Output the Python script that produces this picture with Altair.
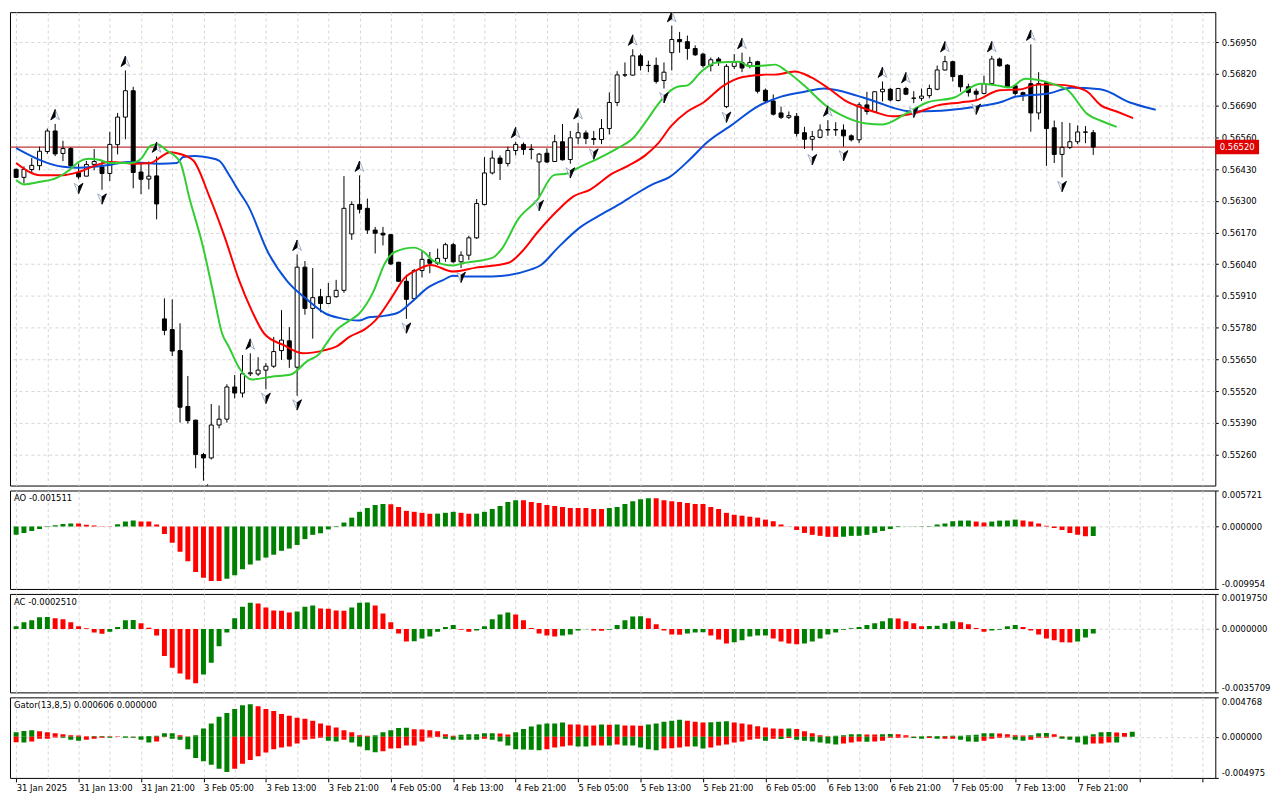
import json
import altair as alt
import pandas as pd

# ---------------- data (H1 candles, 31 Jan 2025 05:00 -> 7 Feb 2025 23:00) ----------------
opens = [0.56429,0.56396,0.56428,0.56444,0.56502,0.56586,0.56494,0.56514,0.56416,0.56401,
0.56449,0.56439,0.56412,0.56530,0.56643,0.56751,0.56418,0.56389,0.56402,0.55816,
0.55772,0.55686,0.55457,0.55401,0.55260,0.55246,0.55381,0.55405,0.55537,0.55512,
0.55591,0.55590,0.55606,0.55622,0.55686,0.55726,0.55618,0.56028,0.55859,0.55907,
0.55879,0.55907,0.55933,0.56164,0.56285,0.56269,0.56180,0.56167,0.56161,0.56048,
0.55970,0.55899,0.56014,0.56060,0.56044,0.56064,0.56120,0.56050,0.56077,0.56148,
0.56285,0.56414,0.56475,0.56453,0.56506,0.56531,0.56512,0.56459,0.56495,0.56461,
0.56542,0.56469,0.56558,0.56578,0.56555,0.56551,0.56596,0.56703,0.56816,0.56815,
0.56894,0.56854,0.56855,0.56793,0.56907,0.56961,0.56952,0.56924,0.56901,0.56854,
0.56881,0.56686,0.56851,0.56867,0.56853,0.56870,0.56753,0.56709,0.56660,0.56642,
0.56646,0.56579,0.56552,0.56560,0.56590,0.56592,0.56590,0.56566,0.56550,0.56693,
0.56666,0.56747,0.56757,0.56711,0.56760,0.56721,0.56720,0.56731,0.56757,0.56836,
0.56870,0.56813,0.56767,0.56749,0.56740,0.56780,0.56881,0.56856,0.56771,0.56743,
0.56780,0.56660,0.56784,0.56599,0.56490,0.56519,0.56542,0.56582,0.56579]
highs = [0.56432,0.56441,0.56475,0.56522,0.56596,0.56615,0.56546,0.56519,0.56452,0.56463,
0.56512,0.56465,0.56583,0.56660,0.56834,0.56767,0.56452,0.56461,0.56482,0.55900,
0.55896,0.55798,0.55582,0.55403,0.55267,0.55467,0.55461,0.55548,0.55586,0.55668,
0.55675,0.55659,0.55635,0.55742,0.55852,0.55782,0.56080,0.56053,0.56024,0.55939,
0.55963,0.55976,0.56401,0.56298,0.56404,0.56309,0.56193,0.56193,0.56164,0.56050,
0.55997,0.56021,0.56097,0.56090,0.56104,0.56128,0.56128,0.56093,0.56157,0.56307,
0.56479,0.56506,0.56486,0.56522,0.56542,0.56539,0.56532,0.56496,0.56515,0.56570,
0.56615,0.56586,0.56619,0.56588,0.56586,0.56635,0.56744,0.56831,0.56867,0.56921,
0.56903,0.56874,0.56887,0.56867,0.57017,0.56992,0.56977,0.56937,0.56907,0.56887,
0.56889,0.56860,0.56901,0.56907,0.56890,0.56874,0.56760,0.56736,0.56686,0.56666,
0.56660,0.56603,0.56586,0.56613,0.56630,0.56622,0.56613,0.56572,0.56703,0.56747,
0.56749,0.56789,0.56763,0.56763,0.56767,0.56749,0.56760,0.56776,0.56854,0.56894,
0.56874,0.56817,0.56780,0.56760,0.56813,0.56894,0.56887,0.56860,0.56773,0.56747,
0.56941,0.56827,0.56789,0.56629,0.56623,0.56619,0.56609,0.56606,0.56590]
lows = [0.56393,0.56371,0.56412,0.56425,0.56492,0.56483,0.56463,0.56439,0.56388,0.56400,
0.56425,0.56345,0.56381,0.56490,0.56552,0.56351,0.56327,0.56347,0.56224,0.55749,
0.55664,0.55391,0.55387,0.55204,0.55153,0.55240,0.55367,0.55391,0.55490,0.55494,
0.55582,0.55582,0.55528,0.55615,0.55648,0.55615,0.55501,0.55833,0.55735,0.55843,
0.55876,0.55903,0.55923,0.56140,0.56248,0.56164,0.56084,0.56117,0.56037,0.55967,
0.55816,0.55896,0.55986,0.56003,0.56037,0.56050,0.56044,0.56024,0.56057,0.56144,
0.56281,0.56408,0.56385,0.56441,0.56486,0.56488,0.56470,0.56318,0.56455,0.56459,
0.56465,0.56452,0.56532,0.56532,0.56529,0.56532,0.56572,0.56689,0.56807,0.56813,
0.56834,0.56827,0.56780,0.56760,0.56834,0.56907,0.56878,0.56894,0.56846,0.56830,
0.56853,0.56680,0.56840,0.56827,0.56843,0.56740,0.56703,0.56649,0.56635,0.56635,
0.56563,0.56512,0.56506,0.56556,0.56566,0.56566,0.56522,0.56543,0.56536,0.56653,
0.56660,0.56707,0.56707,0.56707,0.56733,0.56700,0.56709,0.56720,0.56753,0.56834,
0.56789,0.56747,0.56727,0.56713,0.56736,0.56776,0.56850,0.56763,0.56731,0.56709,
0.56583,0.56633,0.56443,0.56455,0.56396,0.56512,0.56532,0.56536,0.56488]
closes = [0.56396,0.56429,0.56445,0.56503,0.56586,0.56492,0.56514,0.56444,0.56398,0.56449,
0.56461,0.56412,0.56531,0.56643,0.56751,0.56416,0.56388,0.56401,0.56287,0.55769,
0.55684,0.55454,0.55399,0.55260,0.55246,0.55381,0.55405,0.55537,0.55512,0.55591,
0.55595,0.55606,0.55622,0.55682,0.55729,0.55651,0.56028,0.55859,0.55903,0.55879,
0.55907,0.55933,0.56269,0.56285,0.56265,0.56180,0.56167,0.56160,0.56041,0.55970,
0.55896,0.56014,0.56060,0.56044,0.56064,0.56120,0.56050,0.56077,0.56148,0.56289,
0.56414,0.56475,0.56453,0.56506,0.56531,0.56510,0.56510,0.56491,0.56459,0.56542,
0.56468,0.56558,0.56579,0.56555,0.56551,0.56596,0.56703,0.56816,0.56815,0.56894,
0.56854,0.56855,0.56789,0.56827,0.56961,0.56952,0.56924,0.56898,0.56854,0.56878,
0.56871,0.56851,0.56867,0.56844,0.56867,0.56749,0.56709,0.56655,0.56642,0.56649,
0.56576,0.56552,0.56563,0.56590,0.56592,0.56590,0.56566,0.56550,0.56693,0.56666,
0.56747,0.56757,0.56713,0.56760,0.56737,0.56720,0.56729,0.56760,0.56836,0.56870,
0.56809,0.56767,0.56744,0.56737,0.56780,0.56881,0.56853,0.56767,0.56740,0.56731,
0.56660,0.56780,0.56596,0.56490,0.56519,0.56542,0.56582,0.56581,0.56520]

# Alligator lines (bar position, value) - jaw (blue), teeth (red), lips (green)
jaw_i = [0,6,8,12,14.3,16.4,18.5,20.6,21.4,23,24.75,26,27.25,28.5,29.75,32.25,34.75,37.25,39.75,41.4,
43.9,45.2,46.8,48.9,50.6,52.7,54.75,56,57.25,61,66,67.25,69.3,72.25,74.75,77.25,79.75,81.8,83.7,86.4,
88.5,91.8,94.75,98,101,103.5,106,108.5,110.5,112.25,114.75,118.5,122.25,126.4,128.1,132.25,135.2,138.9,142.7,146]
jaw_v = [0.56516,0.56439,0.56435,0.56447,0.56459,0.56455,0.56452,0.56455,0.56479,0.56484,
0.56476,0.56465,0.56408,0.56341,0.56278,0.56090,0.55970,0.55896,0.55836,0.55820,
0.55809,0.55823,0.55827,0.55841,0.55883,0.55943,0.55976,0.55993,0.55990,0.55990,
0.56019,0.56037,0.56104,0.56191,0.56240,0.56285,0.56335,0.56371,0.56397,0.56472,
0.56539,0.56613,0.56682,0.56727,0.56747,0.56760,0.56747,0.56723,0.56702,0.56682,
0.56666,0.56669,0.56682,0.56707,0.56727,0.56740,0.56763,0.56757,0.56703,0.56673]
teeth_i = [0,3.1,6,8,10.2,12,15.2,17.25,18.1,19.75,21,22.7,24.75,26.8,28.5,30.2,31.8,34.3,36.8,39.3,
41,42.7,44.75,46,48.1,49.75,51.4,53.1,56,58.9,63.1,64.75,66.8,69.3,71.4,73.5,76.4,78.5,80.6,82.25,
83.9,86,88.1,90.6,93.1,96,97.25,99.75,101.8,104.3,106.4,108.5,110,112.25,115.2,118.1,121,123.1,126,128.5,
131,133.1,135.6,137.25,138.9,141,143.1]
teeth_v = [0.56455,0.56405,0.56405,0.56418,0.56445,0.56459,0.56452,0.56455,0.56470,0.56499,
0.56492,0.56465,0.56318,0.56144,0.55980,0.55849,0.55755,0.55708,0.55675,0.55686,
0.55702,0.55742,0.55775,0.55809,0.55903,0.55983,0.56017,0.56037,0.56010,0.56026,
0.56046,0.56090,0.56171,0.56258,0.56318,0.56345,0.56412,0.56445,0.56486,0.56535,
0.56606,0.56666,0.56704,0.56771,0.56807,0.56817,0.56817,0.56830,0.56807,0.56756,
0.56707,0.56680,0.56664,0.56646,0.56660,0.56691,0.56703,0.56713,0.56753,0.56756,
0.56776,0.56776,0.56767,0.56747,0.56693,0.56666,0.56639]
lips_i = [0,1,3.1,5.2,6.8,8,9.3,10.6,12,14.75,16,17.25,18.1,19.3,21,22.25,23.9,25.2,26.4,27.25,
28.5,30.2,32.7,35.2,37.25,38.9,39.75,41,42.7,43.9,45.8,47.25,48.5,51,52.25,53.5,56,57.25,61,62.25,
64.3,66.8,68.9,70.6,72.25,74.3,77.25,78.9,81,82.25,83.5,84.75,86,87.7,89.75,92.7,93.9,95.6,97.25,98.5,
101,103.9,105.6,108.9,111,113.9,116.8,120.2,122.25,123.5,125.6,127.25,129.3,130.6,133.1,134.75,137.25,138.9,141]
lips_v = [0.56385,0.56367,0.56378,0.56394,0.56425,0.56459,0.56472,0.56468,0.56455,0.56455,
0.56472,0.56526,0.56532,0.56506,0.56459,0.56305,0.56117,0.55930,0.55755,0.55702,
0.55619,0.55568,0.55579,0.55588,0.55642,0.55675,0.55715,0.55769,0.55809,0.55836,
0.55930,0.56044,0.56090,0.56108,0.56090,0.56053,0.56035,0.56044,0.56066,0.56104,
0.56224,0.56305,0.56405,0.56412,0.56439,0.56469,0.56519,0.56552,0.56639,0.56696,
0.56742,0.56767,0.56773,0.56827,0.56867,0.56870,0.56851,0.56853,0.56858,0.56836,
0.56771,0.56686,0.56653,0.56617,0.56613,0.56655,0.56704,0.56723,0.56764,0.56780,
0.56773,0.56764,0.56800,0.56797,0.56776,0.56753,0.56655,0.56629,0.56603]

# Bill Williams fractals (bar indices)
fractal_up = [5, 14, 18, 30, 36, 44, 64, 72, 79, 84, 93, 104, 111, 114, 119, 125, 130]
fractal_down = [8, 11, 24, 32, 36, 50, 57, 67, 71, 74, 83, 91, 102, 106, 115, 123, 134]
last_price = 0.56520

# Awesome Oscillator
ao = [-0.00134,-0.00103,-0.00072,-0.00041,-0.00010,0.00020,0.00040,0.00047,0.00045,0.00026,
0.00015,0.00005,0.00002,0.00036,0.00078,0.00093,0.00078,0.00077,0.00031,-0.00119,
-0.00259,-0.00403,-0.00553,-0.00724,-0.00817,-0.00869,-0.00870,-0.00832,-0.00776,-0.00682,
-0.00605,-0.00543,-0.00496,-0.00450,-0.00388,-0.00352,-0.00295,-0.00202,-0.00134,-0.00109,
-0.00047,-0.00010,0.00062,0.00140,0.00233,0.00295,0.00341,0.00357,0.00355,0.00310,
0.00248,0.00233,0.00217,0.00202,0.00204,0.00217,0.00233,0.00217,0.00202,0.00204,
0.00233,0.00279,0.00326,0.00388,0.00419,0.00418,0.00388,0.00372,0.00341,0.00326,
0.00310,0.00295,0.00294,0.00293,0.00279,0.00278,0.00295,0.00310,0.00357,0.00403,
0.00434,0.00450,0.00449,0.00419,0.00403,0.00388,0.00372,0.00357,0.00356,0.00310,
0.00279,0.00217,0.00186,0.00171,0.00155,0.00140,0.00109,0.00083,0.00031,0.00003,
-0.00057,-0.00103,-0.00134,-0.00150,-0.00165,-0.00166,-0.00164,-0.00150,-0.00149,-0.00134,
-0.00103,-0.00072,-0.00041,-0.00010,0.00002,0.00003,0.00005,0.00006,0.00031,0.00047,
0.00083,0.00093,0.00094,0.00078,0.00062,0.00078,0.00093,0.00094,0.00109,0.00093,
0.00078,0.00047,0.00010,-0.00026,-0.00057,-0.00103,-0.00134,-0.00155,-0.001511]
ao_colors = ("ggggg ggg rrrrr ggg rrrrr rrrrr r ggggg ggggg ggggg ggggg g rrrrr r ggg rr ggggg g "
             "rrrrr rrrrr r ggggg g rrrrr rrrrr rrrrr rrrrr rrrr ggggg ggggg ggggg gg rr gggg rrrrr rrrr g")

# Accelerator Oscillator
ac = [0.00015,0.00038,0.00049,0.00066,0.00067,0.00060,0.00055,0.00038,0.00016,0.00004,
-0.00020,-0.00027,-0.00015,0.00011,0.00049,0.00050,0.00033,0.00007,-0.00037,-0.00152,
-0.00218,-0.00251,-0.00284,-0.00306,-0.00256,-0.00190,-0.00097,-0.00020,0.00060,0.00126,
0.00148,0.00143,0.00121,0.00104,0.00103,0.00093,0.00099,0.00126,0.00132,0.00115,
0.00114,0.00104,0.00103,0.00121,0.00148,0.00149,0.00132,0.00088,0.00038,-0.00026,
-0.00070,-0.00069,-0.00053,-0.00042,-0.00015,0.00011,0.00022,-0.00004,-0.00015,-0.00009,
0.00016,0.00055,0.00082,0.00093,0.00082,0.00049,0.00005,-0.00026,-0.00037,-0.00042,
-0.00037,-0.00031,-0.00009,-0.00002,-0.00009,-0.00010,-0.00004,0.00022,0.00049,0.00071,
0.00072,0.00060,0.00027,-0.00009,-0.00031,-0.00032,-0.00026,-0.00020,-0.00019,-0.00037,
-0.00059,-0.00081,-0.00075,-0.00064,-0.00042,-0.00037,-0.00036,-0.00053,-0.00070,-0.00081,
-0.00086,-0.00081,-0.00070,-0.00053,-0.00031,-0.00020,-0.00004,0.00004,0.00011,0.00022,
0.00033,0.00044,0.00060,0.00059,0.00044,0.00033,0.00016,0.00017,0.00018,0.00033,
0.00044,0.00038,0.00027,0.00005,-0.00015,-0.00009,-0.00004,0.00016,0.00022,0.00011,
-0.00009,-0.00031,-0.00053,-0.00064,-0.00075,-0.00076,-0.00070,-0.00048,-0.000251]
ac_colors = ("ggggg rrrrr rr gggg rrrrr rrr ggggg gg rrrrr ggg rrrr ggg rrrrr ggggg g rr ggggg rrrrr r "
             "gggg rr ggggg rrrrr ggg rrr ggggg rrrr ggggg ggggg gg rrrr gggg rrrr gggg rrrrr rr ggg")

# Gator oscillator (upper = |jaw-teeth|, lower = -|teeth-lips|)
gator_up = [0.000546,0.000702,0.000780,0.000663,0.000546,0.000429,0.000312,0.000195,0.000156,0.000078,
0.000080,0.000085,0.000075,0.000040,0.000078,0.000045,0.000070,0.000090,0.000117,0.000429,
0.000440,0.000195,0.000039,0.000195,0.001014,0.001599,0.002418,0.002886,0.003354,0.003822,
0.003939,0.003705,0.003354,0.003120,0.002769,0.002535,0.002301,0.002184,0.001950,0.001599,
0.001365,0.001131,0.000780,0.000546,0.000195,0.000117,0.000195,0.000546,0.000780,0.001053,
0.001092,0.000897,0.000890,0.000780,0.000663,0.000312,0.000117,0.000234,0.000312,0.000320,
0.000429,0.000435,0.000390,0.000273,0.000546,0.000936,0.001248,0.001482,0.001599,0.001605,
0.001716,0.001482,0.001475,0.001365,0.001360,0.001482,0.001443,0.001482,0.001365,0.001360,
0.001326,0.001482,0.001599,0.001833,0.001950,0.002067,0.001950,0.001833,0.001716,0.001755,
0.001833,0.001872,0.001716,0.001599,0.001482,0.001287,0.001131,0.001014,0.000975,0.001014,
0.000936,0.000663,0.000429,0.000195,0.000078,0.000117,0.000195,0.000312,0.000320,0.000273,
0.000270,0.000312,0.000351,0.000312,0.000195,0.000039,0.000078,0.000080,0.000085,0.000090,
0.000117,0.000120,0.000195,0.000234,0.000429,0.000435,0.000390,0.000312,0.000195,0.000156,
0.000195,0.000429,0.000468,0.000312,0.000078,0.000039,0.000045,0.000117,0.000312,0.000546,
0.000585,0.000507,0.000468,0.000606]
gator_up_colors = ("ggg rrrrr rr gg rr g r ggggg rr ggggg ggg rrrrr rrrrr rrrrr ggggg rrrrr r ggggg rr "
                   "ggggg gg rrrr g r g rrr ggggg rrr ggg rrrrr rr g rrrrr gggg rr gg rrr ggggg ggggg "
                   "rrrr ggg rrr ggggg rr g")
gator_dn = [-0.000663,-0.000702,-0.000585,-0.000234,-0.000230,-0.000078,-0.000117,-0.000351,-0.000468,-0.000351,
-0.000234,-0.000117,-0.000120,-0.000039,-0.000117,-0.000120,-0.000351,-0.000702,-0.000585,-0.000039,
-0.000234,-0.000351,-0.001521,-0.002574,-0.002964,-0.003393,-0.003861,-0.004251,-0.003861,-0.003276,
-0.002808,-0.002340,-0.001911,-0.001521,-0.001287,-0.001170,-0.000819,-0.000351,-0.000234,-0.000117,
-0.000468,-0.000585,-0.000351,-0.000702,-0.001170,-0.001638,-0.001872,-0.001755,-0.001404,-0.001400,
-0.001053,-0.001050,-0.000585,-0.000078,-0.000039,-0.000234,-0.000351,-0.000355,-0.000360,-0.000365,
-0.000234,-0.000351,-0.000585,-0.001053,-0.001521,-0.001530,-0.001560,-0.001638,-0.001521,-0.001287,
-0.001170,-0.001053,-0.001170,-0.001175,-0.001053,-0.001050,-0.001055,-0.000936,-0.001053,-0.001060,
-0.001287,-0.001521,-0.001638,-0.001404,-0.001400,-0.001287,-0.001170,-0.001175,-0.001404,-0.001287,
-0.001053,-0.000936,-0.000702,-0.000585,-0.000351,-0.000234,-0.000468,-0.000234,-0.000273,-0.000156,
-0.000351,-0.000468,-0.000585,-0.000702,-0.000819,-0.000936,-0.000819,-0.000702,-0.000585,-0.000590,
-0.000585,-0.000468,-0.000117,-0.000115,-0.000078,-0.000156,-0.000234,-0.000156,-0.000234,-0.000230,
-0.000225,-0.000351,-0.000585,-0.000590,-0.000468,-0.000234,-0.000117,-0.000078,-0.000351,-0.000468,
-0.000351,-0.000117,-0.000115,-0.000039,-0.000234,-0.000351,-0.000702,-0.000936,-0.000819,-0.000815,
-0.000702,-0.000705,0.0,0.0]
gator_dn_colors = ("r g rrrr ggg rrr g r gggg rr ggggg ggg rrrrr rrrrr rr gg r gggg rrrrr rrr ggggg r ggggg gg "
                   "rrrr gg rr g r ggggg rrrr gg rrrrr rr g r g r ggggg g rrr g rrrrr gg r g rr ggg rrrr gg "
                   "rrrr gggg rrr g rr")

time_labels = ["31 Jan 2025", "31 Jan 13:00", "31 Jan 21:00", "3 Feb 05:00", "3 Feb 13:00",
               "3 Feb 21:00", "4 Feb 05:00", "4 Feb 13:00", "4 Feb 21:00", "5 Feb 05:00",
               "5 Feb 13:00", "5 Feb 21:00", "6 Feb 05:00", "6 Feb 13:00", "6 Feb 21:00",
               "7 Feb 05:00", "7 Feb 13:00", "7 Feb 21:00"]
price_ticks = [0.55260, 0.55390, 0.55520, 0.55650, 0.55780, 0.55910, 0.56040,
               0.56170, 0.56300, 0.56430, 0.56560, 0.56690, 0.56820, 0.56950]

ao_caption = "AO -0.001511"
ac_caption = "AC -0.0002510"
gator_caption = "Gator(13,8,5) 0.000606 0.000000"

# ---------------- styling ----------------
W = 1212
H_MAIN, H_AO, H_AC, H_GT = 476, 99, 99, 81
FONT = "DejaVu Sans"
FS = 8.5
GRID = "#d6d6d6"
DASH = [3, 3]
XDOM = [-0.15, 153.0]
GREEN, RED = "#008000", "#ff0000"
MINUS_FIX = "replace(datum.label, '\u2212', '-')"


def colors_list(s, n):
    c = list(s.replace(" ", ""))
    c = (c + [c[-1]] * n)[:n]
    return ["rise" if ch == "g" else "fall" for ch in c]


grid_vals = list(range(0, 153, 4))
x_scale = alt.Scale(domain=XDOM, nice=False, zero=False)


def X(bottom=False):
    if bottom:
        expr = ("datum.value % 8 === 0 && datum.value / 8 < " + str(len(time_labels)) + " ? "
                + json.dumps(time_labels) + "[datum.value / 8] : ''")
        ax = alt.Axis(values=grid_vals, grid=True, gridDash=DASH, gridColor=GRID, domain=False,
                      labelExpr=expr, labelAlign="left", labelPadding=2, labelOverlap=False,
                      labelFont=FONT, labelFontSize=FS, labelColor="black", labelBound=False,
                      tickSize=4, tickColor={"condition": {"test": "datum.value % 8 === 0", "value": "black"},
                                             "value": "transparent"},
                      title=None)
    else:
        ax = alt.Axis(values=grid_vals, grid=True, gridDash=DASH, gridColor=GRID, labels=False,
                      ticks=False, domain=False, title=None)
    return alt.X("i:Q", scale=x_scale, axis=ax)


def ind_axis(vals, fmt):
    return alt.Axis(orient="right", values=vals, format=fmt, labelExpr=MINUS_FIX, labelFlush=True,
                    grid=True, gridDash=DASH,
                    gridColor={"condition": {"test": "datum.value === 0", "value": GRID}, "value": "transparent"},
                    domain=False, tickSize=3,
                    tickColor="black", labelFont=FONT, labelFontSize=FS, labelColor="black",
                    labelPadding=3, title=None)


# ---------------- main price panel ----------------
n = len(closes)
candles = pd.DataFrame({"i": list(range(n)), "open": opens, "high": highs, "low": lows, "close": closes})
candles["dir"] = ["bull" if c >= o else "bear" for o, c in zip(opens, closes)]

y_main_scale = alt.Scale(domain=[0.55133, 0.57073], nice=False, zero=False)
y_main_axis = alt.Axis(orient="right", values=price_ticks, format=".5f", grid=True, gridDash=DASH,
                       gridColor=GRID, domain=False, tickSize=3, tickColor="black", labelFont=FONT,
                       labelFontSize=FS, labelColor="black", labelPadding=3, title=None)


def YM(field):
    return alt.Y(field, scale=y_main_scale, axis=y_main_axis)


price_df = pd.DataFrame({"price": [last_price], "label": [f"{last_price:.5f}"]})
price_line = alt.Chart(price_df).mark_rule(color="#b00000", strokeWidth=1).encode(
    x=alt.value(0), x2=alt.value(W), y=YM("price:Q"))

wicks = alt.Chart(candles).mark_rule(color="black", strokeWidth=1, clip=True).encode(
    x=X(), y=YM("low:Q"), y2="high:Q")
bodies = alt.Chart(candles).mark_bar(size=4, stroke="black", strokeWidth=1, clip=True).encode(
    x=X(), y=YM("open:Q"), y2="close:Q",
    color=alt.Color("dir:N", scale=alt.Scale(domain=["bull", "bear"], range=["white", "black"]), legend=None))


def gator_line(xs, vs, col):
    df = pd.DataFrame({"i": xs, "v": vs})
    return alt.Chart(df).mark_line(color=col, strokeWidth=2, interpolate="monotone", clip=True).encode(
        x=X(), y=YM("v:Q"))


jaw = gator_line(jaw_i, jaw_v, "#0a4fd8")
teeth = gator_line(teeth_i, teeth_v, "#ff0000")
lips = gator_line(lips_i, lips_v, "#32cd32")

up_df = pd.DataFrame({"i": fractal_up, "p": [highs[k] for k in fractal_up]})
dn_df = pd.DataFrame({"i": fractal_down, "p": [lows[k] for k in fractal_down]})
UP_FULL = "M0,-1L0.8,0.9L0,0.35L-0.8,0.9Z"
UP_HALF = "M0,-1L0,0.35L-0.8,0.9Z"
DN_FULL = "M0,1L0.8,-0.9L0,-0.35L-0.8,-0.9Z"
DN_HALF = "M0,1L0,-0.35L0.8,-0.9Z"


def arrows(df, path, off, fill, stroke):
    return alt.Chart(df).mark_point(shape=path, size=120, filled=True, fill=fill, stroke=stroke,
                                    strokeWidth=0.8, opacity=1, yOffset=off, clip=True).encode(
        x=X(), y=YM("p:Q"))


up_a = arrows(up_df, UP_FULL, -9, "white", "#8899bb")
up_b = arrows(up_df, UP_HALF, -9, "black", "black")
dn_a = arrows(dn_df, DN_FULL, 9, "white", "#8899bb")
dn_b = arrows(dn_df, DN_HALF, 9, "black", "black")

BOX = "M-1,-0.3L1,-0.3L1,0.3L-1,0.3Z"
price_box = alt.Chart(price_df).mark_point(shape=BOX, size=1764, filled=True, fill="#e00000",
                                           stroke="#e00000", opacity=1, clip=False).encode(
    x=alt.value(W + 22), y=YM("price:Q"))
price_txt = alt.Chart(price_df).mark_text(color="white", font=FONT, fontSize=FS, align="center",
                                          baseline="middle", clip=False).encode(
    x=alt.value(W + 22), y=YM("price:Q"), text="label:N")

main = alt.layer(price_line, wicks, bodies, jaw, teeth, lips, up_a, up_b, dn_a, dn_b,
                 price_box, price_txt).properties(width=W, height=H_MAIN)


# ---------------- indicator panels ----------------
def caption(text):
    return alt.Chart(pd.DataFrame({"t": [text]})).mark_text(
        align="left", baseline="top", font=FONT, fontSize=FS, color="black").encode(
        x=alt.value(4), y=alt.value(4), text="t:N")


def color_enc():
    return alt.Color("c:N", scale=alt.Scale(domain=["rise", "fall"], range=[GREEN, RED]), legend=None)


def hist_panel(vals, cols, dom, ticks, fmt, cap, h):
    df = pd.DataFrame({"i": list(range(len(vals))), "v": vals, "c": colors_list(cols, len(vals))})
    sc = alt.Scale(domain=dom, nice=False, zero=False)
    bars = alt.Chart(df).mark_bar(size=5, clip=True).encode(
        x=X(), y=alt.Y("v:Q", scale=sc, axis=ind_axis(ticks, fmt), stack=None), color=color_enc())
    return alt.layer(bars, caption(cap)).properties(width=W, height=h)


ao_panel = hist_panel(ao, ao_colors, [-0.009954, 0.005721], [-0.009954, 0.0, 0.005721], ".6f",
                      ao_caption, H_AO)
ac_panel = hist_panel(ac, ac_colors, [-0.0035709, 0.001975], [-0.0035709, 0.0, 0.001975], ".7f",
                      ac_caption, H_AC)

g_df = pd.DataFrame({
    "i": list(range(len(gator_up))) + list(range(len(gator_dn))),
    "v": gator_up + gator_dn,
    "c": colors_list(gator_up_colors, len(gator_up)) + colors_list(gator_dn_colors, len(gator_dn)),
})
g_scale = alt.Scale(domain=[-0.004975, 0.004768], nice=False, zero=False)
g_bars = alt.Chart(g_df).mark_bar(size=5, clip=True).encode(
    x=X(True), y=alt.Y("v:Q", scale=g_scale, axis=ind_axis([-0.004975, 0.0, 0.004768], ".6f"), stack=None),
    color=color_enc())
gator_panel = alt.layer(g_bars, caption(gator_caption)).properties(width=W, height=H_GT)

chart = alt.vconcat(main, ao_panel, ac_panel, gator_panel, spacing=3).resolve_scale(
    color="independent"
).properties(
    padding={"left": 1, "top": 1, "right": 1, "bottom": 1}, background="white"
).configure_view(stroke="black", strokeWidth=1).configure_axis(
    labelFont=FONT, labelFontSize=FS, labelColor="black")

chart.save("out.html", embed_options={"renderer": "svg", "actions": False})
